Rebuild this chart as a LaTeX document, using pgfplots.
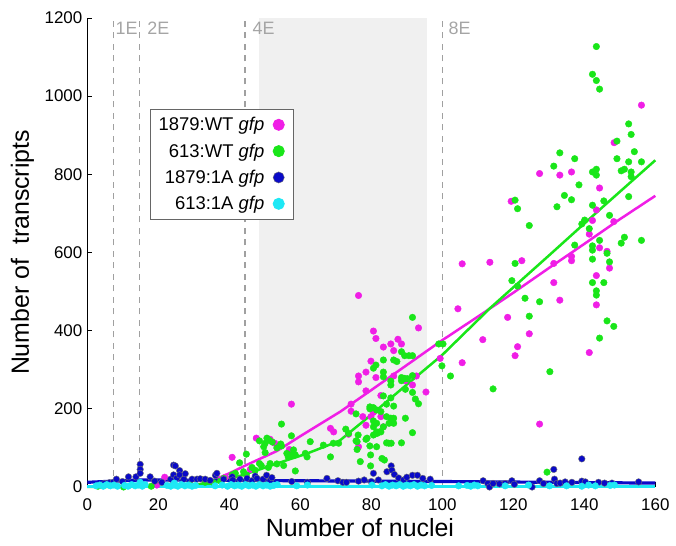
\documentclass[border=0pt]{standalone}
\usepackage{fontspec}
\setmainfont{Liberation Sans}
\usepackage{pgfplots}
\pgfplotsset{compat=1.18}
\definecolor{cMag}{RGB}{240,30,230}
\definecolor{cGreen}{RGB}{25,230,25}
\definecolor{cBlue}{RGB}{10,10,200}
\definecolor{cCyan}{RGB}{30,232,245}
\definecolor{cShade}{RGB}{240,240,240}
\definecolor{dashgray}{RGB}{160,160,160}
\definecolor{labgray}{RGB}{165,165,165}

\begin{document}
\begin{tikzpicture}
\begin{axis}[
    width=568bp, height=469bp, scale only axis,
    xmin=0, xmax=160, ymin=0, ymax=1200,
    clip=false,
    axis lines=left,
    axis line style={-, line width=0.8bp},
    tick align=inside, major tick length=5bp,
    tick style={line width=0.8bp, black},
    xtick={0,20,...,160}, ytick={0,200,...,1200},
    /pgf/number format/assume math mode=true,
    /pgf/number format/1000 sep={},
    ticklabel style={font=\fontsize{17}{17}\selectfont},
    xticklabel style={anchor=base, yshift=-23.7bp},
    yticklabel style={xshift=-1.5bp},
    xlabel={Number of nuclei},
    ylabel={Number of\ \ transcripts},
    label style={font=\fontsize{25}{25}\selectfont},
    xlabel style={at={(axis description cs:0.48,-0.1066)}, anchor=base},
    ylabel style={at={(axis description cs:-0.1144,0.5)}, anchor=center},
    legend plot pos=right,
    legend style={at={(axis description cs:0.111,0.806)}, anchor=north west,
        draw=black!60, line width=0.8bp, font=\fontsize{18.5}{18.5}\selectfont,
        cells={anchor=east}, row sep=7.5bp, inner xsep=6bp, inner ysep=6bp},
    legend image code/.code={
        \path[draw=none] (0cm,0cm) -- (0.76cm,0cm);
        \path[#1, draw=none, mark size=5.6bp] plot coordinates {(0.44cm,0cm)};},
]
% 4-8 nuclei window
\fill[cShade] (48.4,0) rectangle (95.7,1200);
\draw[dashgray, line width=1.2bp, dash pattern=on 6bp off 5.5bp] (7.3,0) -- (7.3,1200);
\draw[dashgray, line width=1.2bp, dash pattern=on 6bp off 5.5bp] (14.6,0) -- (14.6,1200);
\draw[dashgray, line width=1.2bp, dash pattern=on 6bp off 5.5bp] (44.4,0) -- (44.4,1200);
\draw[dashgray, line width=1.2bp, dash pattern=on 6bp off 5.5bp] (100,0) -- (100,1200);
\node[anchor=base west, inner sep=0, text=labgray, font=\fontsize{18}{18}\selectfont] at (7.9,1157) {1E};
\node[anchor=base west, inner sep=0, text=labgray, font=\fontsize{18}{18}\selectfont] at (16.9,1157) {2E};
\node[anchor=base west, inner sep=0, text=labgray, font=\fontsize{18}{18}\selectfont] at (46.5,1157) {4E};
\node[anchor=base west, inner sep=0, text=labgray, font=\fontsize{18}{18}\selectfont] at (101.7,1157) {8E};

% 1879:WT
\addplot[only marks, mark=*, mark size=3.3bp, cMag] coordinates {
(19.6,5)(21.8,25)(38.9,25)(40.8,76)(45.9,45)(47.6,125)(51.5,122)(52.8,112)(56.9,96)(57.5,212)
(68.5,150)(69.4,141)(73.6,135)(74.3,212)(74.3,194)(76.4,490)(76.4,284)(76.4,269)(76.4,103)(77.6,180)
(78.5,294)(78.5,246)(78.5,158)(79.9,322)(79.9,180)(80.6,399)(80.6,191)(81.3,380)(81.3,280)(82.7,234)
(82.7,180)(83.4,358)(83.4,154)(85.5,366)(86.3,349)(86.3,284)(87.5,378)(88.5,366)(89.6,272)(91.6,261)
(92.7,284)(93.3,407)(95.4,243)(99.4,329)(104.4,456)(105.6,571)(105.6,318)(111.4,377)(113.4,575)(118.4,434)
(119.4,731)(120.5,336)(121.2,359)(122.4,579)(124.5,392)(127.4,802)(127.4,161)(131.4,572)(131.4,523)(133.1,798)
(133.1,478)(136.4,806)(136.4,590)(136.4,579)(141.4,647)(141.4,344)(142.3,682)(143.4,709)(143.4,541)(143.4,466)
(144.3,765)(144.3,612)(146.4,603)(147.1,560)(148.3,679)(148.4,881)(156.1,977)
};
\addlegendentry{1879:WT \textit{gfp}}

% 613:WT
\addplot[only marks, mark=*, mark size=3.3bp, cGreen] coordinates {
(3,2)(10.2,0)(18,2)(29,6)(33.2,12)(35.6,11)(37.5,15)(38.4,22)(40.8,31)(41.7,35)
(42.9,62)(44,39)(44.8,31)(44.8,84)(46.4,50)(47.3,43)(48.5,60)(48.5,118)(49,55)(49.7,103)
(50.1,112)(50.1,88)(50.6,125)(51,50)(51.2,120)(51.5,60)(52.1,115)(53.4,100)(53.4,59)(54.5,110)
(54.7,161)(54.7,105)(55.3,55)(56.2,86)(56.6,77)(57.3,82)(57.5,131)(58.1,95)(58.6,82)(58.6,41)
(61.4,86)(61.9,77)(62.8,116)(66.5,107)(68.5,77)(69.3,112)(70.8,112)(72.8,148)(73.6,137)(75.7,187)
(75.7,118)(76,116)(76,96)(76.3,133)(76.9,65)(78.5,122)(78.8,125)(79.6,205)(79.6,200)(79.6,105)
(79.8,82)(79.8,54)(80.6,304)(80.6,203)(80.6,169)(80.6,154)(80.6,133)(81.3,312)(81.5,197)(81.5,163)
(81.5,141)(81.5,103)(81.6,137)(82.3,141)(82.7,193)(82.7,141)(83,73)(83.4,325)(83.4,294)(83.4,282)
(83.4,233)(83.4,154)(83.7,69)(84.3,212)(84.3,180)(84.3,113)(84.9,112)(85,163)(85.5,271)(85.5,261)
(85.5,228)(85.5,176)(85.6,112)(86.3,325)(86.3,207)(86.3,176)(86.3,163)(87.2,321)(88.5,346)(88.5,280)
(88.5,272)(88.5,113)(89.4,336)(89.4,278)(89.6,250)(89.6,176)(90.2,277)(90.6,336)(91.6,434)(91.6,336)
(91.6,285)(91.6,242)(91.6,139)(92.4,225)(93.3,213)(99,366)(100.2,366)(99.9,310)(102.3,284)(114.3,251)
(119.6,528)(120.5,734)(120.5,572)(121.2,712)(121.2,514)(123.3,483)(124.5,669)(124.5,437)(127.4,474)(129.5,38)
(130.3,295)(131.4,821)(132.3,717)(133.1,855)(134.4,746)(136.4,735)(137.3,840)(137.3,619)(138.5,773)(139.3,673)
(140.1,683)(141.4,661)(142.3,1056)(142.3,806)(142.3,721)(142.3,617)(142.3,606)(142.3,583)(142.3,523)(143.4,1127)
(143.4,1040)(143.4,813)(143.4,798)(143.4,502)(143.4,491)(144.3,1018)(144.3,631)(144.3,381)(145.5,732)(145.5,523)
(146.4,598)(146.4,425)(147.1,695)(147.1,576)(148.3,411)(149.2,885)(149.2,840)(150.4,809)(150.4,624)(151.3,813)
(151.3,639)(152.5,929)(152.5,832)(152.5,743)(153.2,902)(153.2,806)(153.2,794)(154.1,858)(156.1,832)(156.1,631)
};
\addlegendentry{613:WT \textit{gfp}}

% 1879:1A
\addplot[only marks, mark=*, mark size=3.3bp, cBlue, mark options={draw=black!55, line width=0.4bp, fill=cBlue}] coordinates {
(4.8,9)(6.2,11)(7.3,12)(8.2,20)(9.9,14)(11.6,26)(13.7,26)(14.9,58)(14.9,45)(14.9,35)
(17.7,26)(19,15)(21,12)(23.5,20)(24.3,56)(24.8,54)(24.3,31)(25.2,23)(26,42)(26,31)
(27.2,20)(27.6,34)(29.5,20)(30.9,20)(31.8,21)(33.2,20)(34.6,17)(36.1,30)(36.5,35)(38.4,20)
(40.8,26)(41,18)(43,20)(45,22)(46.4,16)(47.3,28)(47.8,22)(49.5,20)(50.5,30)(51.5,16)
(52,24)(57.6,14)(62,12)(67.5,22)(70.6,16)(72,12)(73,12)(76.4,15)(78,18)(80,14)
(80.6,35)(82,18)(84.4,39)(85.6,54)(85.8,43)(86.5,32)(87.7,23)(89.1,18)(90,25)(91.6,30)
(93,30)(94.5,22)(96.6,20)(111.5,16)(112.8,9)(113.3,0)(114.3,9)(116.1,8)(117.7,9)(119.6,16)
(120.3,7)(125.3,0)(127.4,16)(128.5,9)(131.4,45)(131.6,20)(132.3,9)(133.2,10)(134.6,13)(136.5,12)
(139.3,72)(139.3,15)(140.3,13)(144,12)(145.7,10)(147.8,10)(155.3,13)
};
\addlegendentry{1879:1A \textit{gfp}}

% 613:1A
\addplot[only marks, mark=*, mark size=3.3bp, cCyan] coordinates {
(2.5,3)(3.5,5)(4.5,2)(5.5,6)(6.5,3)(7.5,5)(8.5,2)(10.5,4)(11.5,2)(12.5,6)
(13.5,3)(14.5,5)(14.9,12)(15.5,2)(16.3,6)(22.5,4)(23.5,2)(24.5,10)(24.5,5)(25.5,2)
(26.5,6)(27.5,3)(28.5,5)(29.5,2)(30.5,4)(36,3)(38,5)(39.5,2)(40.5,6)(41.5,3)
(42.5,5)(43.5,2)(44.5,6)(45.5,3)(46.5,5)(47.5,2)(48.5,6)(49.5,3)(50.5,5)(51.5,2)
(52.5,4)(53.5,6)(59,3)(62,5)(80.2,5)(83,3)(84,6)(85,2)(86,5)(87,3)
(88,6)(89,2)(90,5)(91,3)(92,6)(93,2)(94,5)(95,3)(97,4)(104.6,3)
(107,4)(108,2)(109,5)(110,3)(117.7,3)(124.3,5)(130.2,3)(135,3)(139.3,2)(141.2,5)
(143.1,3)(147.3,4)(148.5,5)
};
\addlegendentry{613:1A \textit{gfp}}

% fits
\addplot[cMag, line width=2.5bp, forget plot] coordinates {
(30,3)(34.6,14)(40,35)(45,57)(53.4,92)(60,130)(71.3,193)(80,248)(90,312)(99.4,372)
(110.7,440)(120,497)(130,560)(140,622)(150,685)(160,745)};
\addplot[cGreen, line width=2.5bp, forget plot] coordinates {
(0,0)(20,2)(35,9)(44,31)(53.4,60)(62,86)(71,118)(80,185)(90,262)(100,338)
(113.5,458)(130,592)(145,715)(160,836)};
\addplot[cBlue, line width=3.2bp, forget plot] coordinates {
(0,12)(15,18)(40,17)(100,14)(160,10)};
\addplot[cCyan, line width=3bp, forget plot] coordinates {
(0,2)(160,2)};
\end{axis}
\pgfresetboundingbox
\useasboundingbox (current axis.south west) ++(-87.3bp,-59bp) rectangle ++(676bp,546bp);
\end{tikzpicture}
\end{document}
